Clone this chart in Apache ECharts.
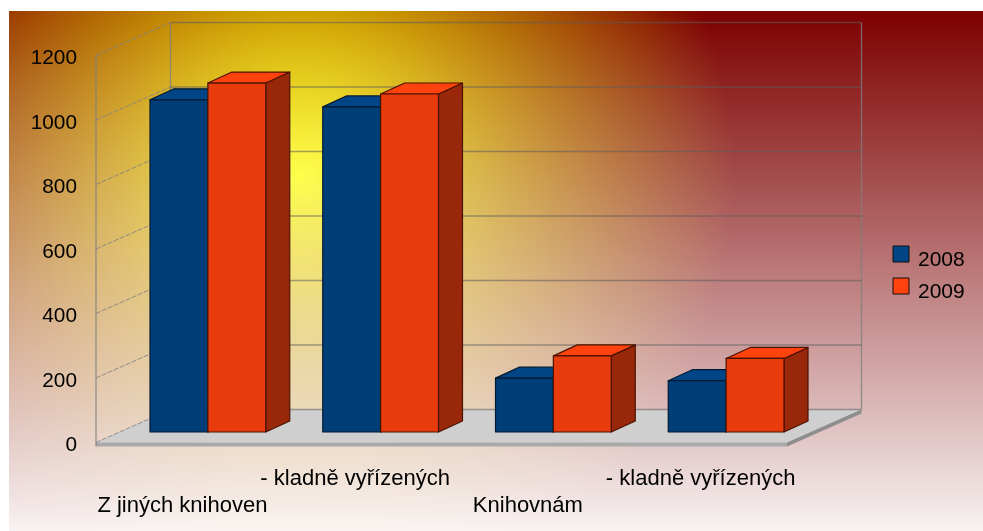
<!DOCTYPE html>
<html>
<head>
<meta charset="utf-8">
<style>
  html, body { margin: 0; padding: 0; background: #fff; }
  #main { width: 983px; height: 531px; }
</style>
<script src="https://cdn.jsdelivr.net/npm/echarts@6/dist/echarts.min.js"></script>
</head>
<body>
<div id="main"></div>
<script>
const categories = ['Z jiných knihoven', '- kladně vyřízených', 'Knihovnám', '- kladně vyřízených'];
const values2008 = [1030, 1008, 167, 159];
const values2009 = [1082, 1048, 236, 228];
const yTicks = [0, 200, 400, 600, 800, 1000, 1200];

// hloubka 3D krabice a posun sloupcu
const depthX = 74.5, depthY = -33;
const barShiftX = 25.5, barShiftY = -10.5;
const barDepthX = 24, barDepthY = -11;
const backLine = { fill: null, stroke: 'rgba(92,92,92,0.55)', lineWidth: 1.7 };
const sideLine = { fill: null, stroke: 'rgba(128,128,128,0.85)', lineWidth: 1, lineDash: [5, 1.5] };
const edgeLine = { fill: null, stroke: 'rgba(128,128,128,0.8)', lineWidth: 1.3 };

function line(points, style) {
  return { type: 'polyline', shape: { points: points }, style: style, silent: true };
}

function poly(points, fill, stroke) {
  return {
    type: 'polygon',
    shape: { points: points },
    style: { fill: fill, stroke: stroke || null, lineWidth: stroke ? 1.2 : 0, lineJoin: 'round' },
    silent: true
  };
}

// steny a podlaha
function renderWalls(params, api) {
  const sys = params.coordSys;
  const left = sys.x, right = sys.x + sys.width;
  const y = api.coord([0, api.value(1)])[1];
  const children = [];
  if (api.value(1) === 0) {
    const bx = y + depthY;
    children.push(poly([[left, y], [left + depthX, bx], [right + depthX, bx], [right, y]], '#cfcfcf'));
    children.push(poly([[left, y], [right, y], [right, y + 4], [left, y + 4]], '#a9a9a9'));
    children.push(poly([[right, y], [right + depthX, bx], [right + depthX, bx + 4], [right, y + 4]], '#8d8d8d'));
    const top = api.coord([0, yTicks[yTicks.length - 1]])[1];
    children.push(line([[left, top], [left, y + 4]], edgeLine));
    children.push(line([[left + depthX, top + depthY], [left + depthX, bx]], edgeLine));
    children.push(line([[right + depthX, top + depthY], [right + depthX, bx]], edgeLine));
  }
  children.push(line([[left, y], [left + depthX, y + depthY]], sideLine));
  children.push(line([[left + depthX, y + depthY], [right + depthX, y + depthY]], backLine));
  return { type: 'group', children: children };
}

function makeBarRenderer(side, front, top, dark, edge) {
  return function (params, api) {
    const c = api.coord([api.value(0), api.value(1)]);
    const zero = api.coord([api.value(0), 0]);
    const w = api.size([1, 0])[0] * 0.335;
    const x0 = c[0] + barShiftX + side * w;
    const x1 = x0 + w;
    const y0 = c[1] + barShiftY;
    const y1 = zero[1] + barShiftY;
    return {
      type: 'group',
      children: [
        poly([[x1, y0], [x1 + barDepthX, y0 + barDepthY], [x1 + barDepthX, y1 + barDepthY], [x1, y1]], dark, edge),
        poly([[x0, y0], [x0 + barDepthX, y0 + barDepthY], [x1 + barDepthX, y0 + barDepthY], [x1, y0]], top, edge),
        poly([[x0, y0], [x1, y0], [x1, y1], [x0, y1]], front, edge)
      ]
    };
  };
}

const chart = echarts.init(document.getElementById('main'), null, { renderer: 'canvas' });
const font = 'Liberation Sans';

chart.setOption({
  animation: false,
  backgroundColor: '#fff',
  graphic: {
    elements: [
      {
        type: 'rect', z: -10, silent: true,
        shape: { x: 9, y: 11, width: 974, height: 520 },
        style: {
          fill: new echarts.graphic.RadialGradient(300, 175, 435, [
            { offset: 0, color: '#ffff00' },
            { offset: 1, color: '#7d0000' }
          ], true)
        }
      },
      {
        type: 'rect', z: -9, silent: true,
        shape: { x: 9, y: 11, width: 974, height: 520 },
        style: {
          fill: new echarts.graphic.LinearGradient(0, 0, 0, 1, [
            { offset: 0, color: 'rgba(255,255,255,0)' },
            { offset: 1, color: 'rgba(255,255,255,0.95)' }
          ])
        }
      }
    ]
  },
  grid: { left: 96, top: 55.5, width: 691, height: 387 },
  legend: {
    orient: 'vertical',
    left: 892.5, top: 237, padding: 0,
    itemWidth: 16, itemHeight: 16, itemGap: -2,
    icon: 'rect',
    data: ['2008', '2009'],
    formatter: function (name) { return '{t|' + name + '}'; },
    textStyle: {
      color: '#000',
      rich: {
        t: { fontFamily: font, fontSize: 21, color: '#000', lineHeight: 24, padding: [13, 0, 0, 4] }
      }
    },
    itemStyle: { borderColor: '#111', borderWidth: 1 }
  },
  xAxis: {
    type: 'category',
    data: categories,
    axisLine: { show: false },
    axisTick: { show: false },
    axisLabel: {
      interval: 0,
      margin: 23,
      fontFamily: font,
      fontSize: 22,
      lineHeight: 27,
      color: '#000',
      formatter: function (v, i) { return i % 2 ? v + '\n ' : ' \n' + v; }
    }
  },
  yAxis: {
    type: 'value',
    min: 0, max: 1200, interval: 200,
    axisLine: { show: false },
    axisTick: { show: false },
    splitLine: { show: false },
    axisLabel: {
      margin: 19, fontFamily: font, fontSize: 20.8, color: '#000',
      verticalAlign: 'top', lineHeight: 6,
      formatter: function (v) { return String(v); }
    }
  },
  series: [
    {
      type: 'custom', name: 'walls', silent: true, z: 1,
      renderItem: renderWalls,
      data: yTicks.map(function (v) { return [0, v]; })
    },
    {
      type: 'custom', name: '2008', z: 2,
      itemStyle: { color: '#004586' },
      renderItem: makeBarRenderer(-1, '#003e78', '#004586', '#002a50', '#001a33'),
      data: values2008.map(function (v, i) { return [i, v]; })
    },
    {
      type: 'custom', name: '2009', z: 3,
      itemStyle: { color: '#ff420e' },
      renderItem: makeBarRenderer(0, '#e83c0c', '#ff420e', '#99280a', '#4a1200'),
      data: values2009.map(function (v, i) { return [i, v]; })
    }
  ]
});
</script>
</body>
</html>
